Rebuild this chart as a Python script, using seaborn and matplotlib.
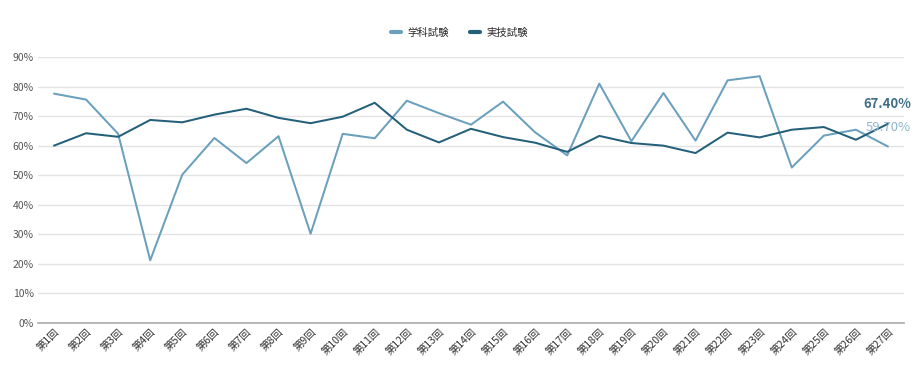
import pandas as pd
import numpy as np
import matplotlib.pyplot as plt
import seaborn as sns

# ------------------------------------------------------------------
# data (pass rates, %)
# ------------------------------------------------------------------
rounds = [f'第{i}回' for i in range(1, 28)]
gakka = [77.6, 75.6, 64.0, 21.2, 50.2, 62.6, 54.1, 63.2, 30.2, 64.0,
         62.5, 75.2, 71.0, 67.1, 74.9, 64.5, 56.7, 81.0, 61.5, 77.8,
         61.7, 82.1, 83.5, 52.6, 63.4, 65.4, 59.7]
jitsugi = [60.0, 64.2, 63.0, 68.7, 67.9, 70.5, 72.5, 69.4, 67.6, 69.8,
           74.5, 65.4, 61.1, 65.7, 62.9, 61.0, 57.9, 63.3, 60.9, 60.0,
           57.5, 64.4, 62.8, 65.4, 66.3, 62.0, 67.4]
series_names = ['学科試験', '実技試験']

LIGHT = '#6aa0bd'
DARK = '#24607a'

sns.set_theme(style='white')
plt.rcParams['font.family'] = ['Noto Sans CJK JP', 'DejaVu Sans']

df = pd.DataFrame({
    'round': rounds * 2,
    'x': list(range(len(rounds))) * 2,
    'rate': [v / 100 for v in gakka + jitsugi],
    'series': [series_names[0]] * len(rounds) + [series_names[1]] * len(rounds),
})

fig = plt.figure(figsize=(9.19, 3.75), dpi=100)
ax = fig.add_axes([0.0413, 0.1387, 0.9424, 0.7093])

sns.lineplot(data=df, x='x', y='rate', hue='series', hue_order=series_names,
             palette=[LIGHT, DARK], linewidth=1.45, ax=ax, legend=False)

ax.set_xlim(-0.5, 26.5)
ax.set_ylim(0, 0.9)
yt = np.arange(0, 0.91, 0.1)
ax.set_yticks(yt)
ax.set_yticklabels([f'{int(round(v * 100))}%' for v in yt], fontsize=7.5, color='#555555')
ax.set_xticks(range(len(rounds)))
ax.set_xticklabels(rounds, rotation=45, ha='right', rotation_mode='anchor',
                   fontsize=7.5, color='#333333')
ax.tick_params(axis='both', length=0, pad=3)
ax.grid(axis='y', color='#e3e3e3', linewidth=1)
ax.set_axisbelow(True)
for s in ['top', 'right', 'left']:
    ax.spines[s].set_visible(False)
ax.spines['bottom'].set_color('#aaaaaa')
ax.spines['bottom'].set_linewidth(1.2)
ax.set_xlabel('')
ax.set_ylabel('')

# end-of-line value labels
ax.annotate(f'{jitsugi[-1]:.2f}%', xy=(26, jitsugi[-1] / 100), xytext=(16.5, 14),
            textcoords='offset points', ha='right', va='center', fontsize=9.5,
            fontweight='bold', color='#3f6e86', annotation_clip=False)
ax.annotate(f'{gakka[-1]:.2f}%', xy=(26, gakka[-1] / 100), xytext=(16.5, 14),
            textcoords='offset points', ha='right', va='center', fontsize=9.5,
            color='#8db6cd', annotation_clip=False)

# legend at top centre
handles = [plt.Line2D([0], [0], color=c, linewidth=3) for c in [LIGHT, DARK]]
fig.legend(handles, series_names, loc='center', bbox_to_anchor=(0.5, 0.912),
           ncol=2, frameon=False, fontsize=7.5, handlelength=1.0,
           columnspacing=2.0, handletextpad=0.6)

fig.savefig('out.png', dpi=100, facecolor='white')
